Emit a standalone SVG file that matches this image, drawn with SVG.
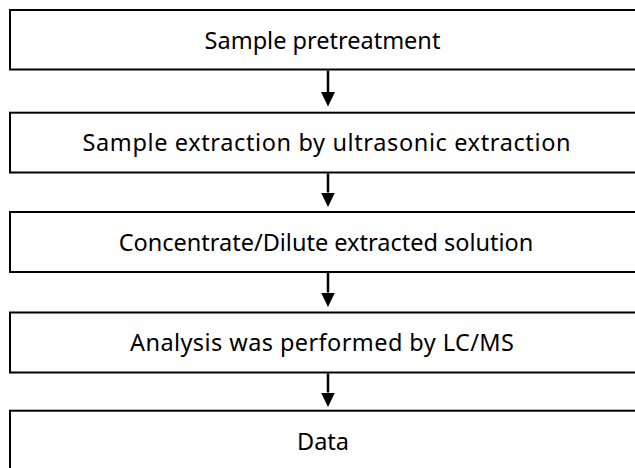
<svg xmlns="http://www.w3.org/2000/svg" width="635" height="468" viewBox="0 0 635 468">
  <style>
    .box { fill: #ffffff; stroke: #000000; stroke-width: 2; }
    .label { font-family: "Noto Sans", "Open Sans", sans-serif; font-size: 23.5px; fill: #000000; text-anchor: middle; }
    .conn { stroke: #000000; stroke-width: 2.5; fill: none; marker-end: url(#arrow); }
  </style>
  <defs>
    <marker id="arrow" markerUnits="userSpaceOnUse" markerWidth="15" markerHeight="15" refX="0" refY="7" orient="auto" viewBox="0 0 15 14">
      <path d="M0,0 L14.5,7 L0,14 Z" fill="#000000"/>
    </marker>
  </defs>
  <rect width="635" height="468" fill="#ffffff"/>
  <g id="node1">
    <rect class="box" x="10" y="10" width="640" height="59.5"/>
    <text class="label" x="322.5" y="48.5">Sample pretreatment</text>
  </g>
  <g id="node2">
    <rect class="box" x="10" y="112.7" width="640" height="59.8"/>
    <text class="label" x="326.5" y="151" textLength="488" lengthAdjust="spacing">Sample extraction by ultrasonic extraction</text>
  </g>
  <g id="node3">
    <rect class="box" x="10" y="212" width="640" height="60"/>
    <text class="label" x="326" y="250.5">Concentrate/Dilute extracted solution</text>
  </g>
  <g id="node4">
    <rect class="box" x="10" y="312.5" width="640" height="60"/>
    <text class="label" x="322" y="351" textLength="384" lengthAdjust="spacing">Analysis was performed by LC/MS</text>
  </g>
  <g id="node5">
    <rect class="box" x="10" y="410.7" width="640" height="70"/>
    <text class="label" x="323" y="449.5">Data</text>
  </g>
  <g id="connectors">
    <line class="conn" x1="328" y1="70.5" x2="328" y2="92"/>
    <line class="conn" x1="328" y1="173.5" x2="328" y2="192.5"/>
    <line class="conn" x1="328" y1="273" x2="328" y2="292.5"/>
    <line class="conn" x1="328" y1="373.5" x2="328" y2="392.5"/>
  </g>
</svg>
